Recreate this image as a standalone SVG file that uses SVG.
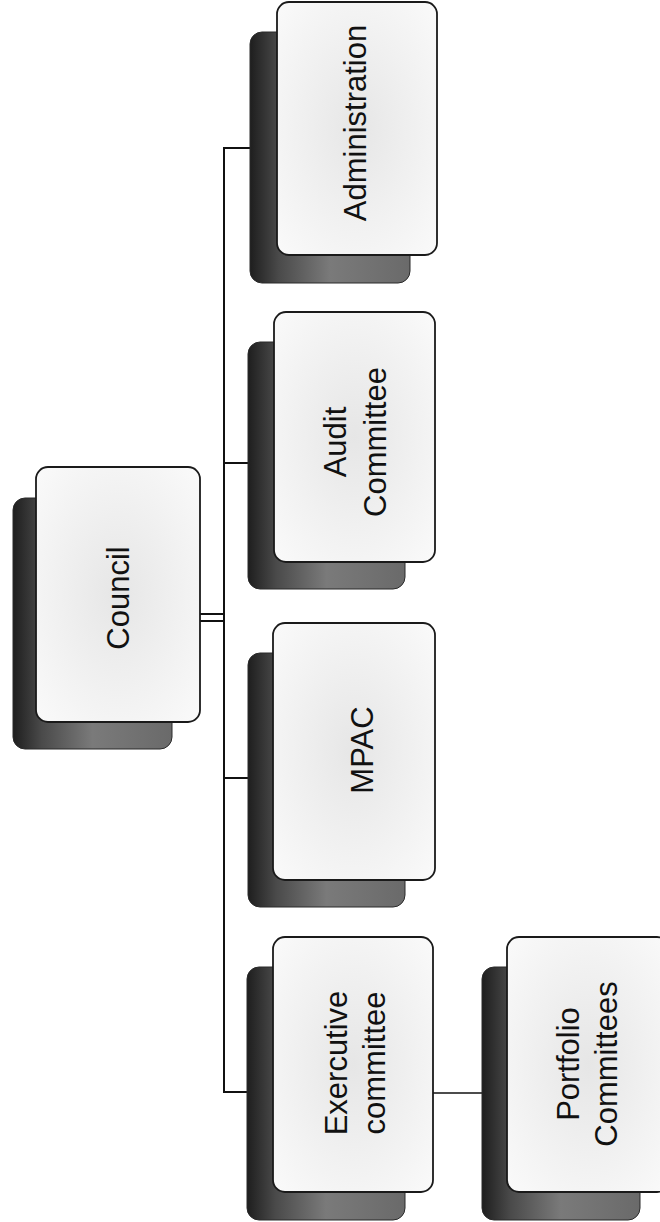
<svg xmlns="http://www.w3.org/2000/svg" width="660" height="1222" viewBox="0 0 660 1222">
<style>
.front{fill:url(#fg);stroke:#1a1a1a;stroke-width:1.8}
.shadow{fill:url(#sg);stroke:#2a2a2a;stroke-width:1}
.lbl{font-family:"Liberation Sans",Arial,sans-serif;font-size:31px;fill:#111;text-anchor:middle;dominant-baseline:central}
.conn{stroke:#111;stroke-width:2;fill:none}
</style>
<defs>
<linearGradient id="sg" x1="0" y1="0" x2="1" y2="0">
<stop offset="0" stop-color="#1e1e1e"/>
<stop offset="0.18" stop-color="#4a4a4a"/>
<stop offset="0.5" stop-color="#7a7a7a"/>
<stop offset="1" stop-color="#6a6a6a"/>
</linearGradient>
<radialGradient id="fg" cx="0.5" cy="0.5" r="0.7">
<stop offset="0" stop-color="#e6e6e6"/>
<stop offset="1" stop-color="#fafafa"/>
</radialGradient>
</defs>
<rect width="660" height="1222" fill="#ffffff"/>
<g id="connectors">
<line class="conn" x1="224" y1="148" x2="224" y2="1093"/>
<line class="conn" x1="223" y1="148" x2="250" y2="148"/>
<line class="conn" x1="223" y1="463" x2="248" y2="463"/>
<line class="conn" x1="223" y1="778" x2="248" y2="778"/>
<line class="conn" x1="223" y1="1092" x2="247" y2="1092"/>
<line class="conn" x1="200" y1="614" x2="224" y2="614"/>
<line class="conn" x1="200" y1="621" x2="224" y2="621"/>
<line class="conn" x1="433" y1="1093" x2="482" y2="1093" style="stroke-width:1.5"/>
</g>
<g id="council">
<rect class="shadow" x="13" y="498" width="159" height="251" rx="12"/>
<rect class="front" x="36" y="467" width="164" height="255" rx="12"/>
<text class="lbl" transform="translate(118,598) rotate(-90)">Council</text>
</g>
<g id="administration">
<rect class="shadow" x="250" y="32" width="160" height="251" rx="12"/>
<rect class="front" x="277" y="2" width="160" height="253" rx="12"/>
<text class="lbl" transform="translate(355,123) rotate(-90)">Administration</text>
</g>
<g id="audit">
<rect class="shadow" x="248" y="342" width="157" height="247" rx="12"/>
<rect class="front" x="274" y="312" width="161" height="250" rx="12"/>
<text class="lbl" transform="translate(355,442) rotate(-90)"><tspan x="0" y="-20">Audit</tspan><tspan x="0" y="20">Committee</tspan></text>
</g>
<g id="mpac">
<rect class="shadow" x="248" y="653" width="157" height="254" rx="12"/>
<rect class="front" x="273" y="623" width="162" height="257" rx="12"/>
<text class="lbl" transform="translate(362,750) rotate(-90)">MPAC</text>
</g>
<g id="executive">
<rect class="shadow" x="247" y="967" width="158" height="253" rx="12"/>
<rect class="front" x="273" y="937" width="160" height="255" rx="12"/>
<text class="lbl" transform="translate(355,1063) rotate(-90)"><tspan x="0" y="-19">Exercutive</tspan><tspan x="0" y="19">committee</tspan></text>
</g>
<g id="portfolio">
<rect class="shadow" x="482" y="967" width="158" height="253" rx="12"/>
<rect class="front" x="507" y="937" width="162" height="255" rx="12"/>
<text class="lbl" transform="translate(587,1064) rotate(-90)"><tspan x="0" y="-19">Portfolio</tspan><tspan x="0" y="19">Committees</tspan></text>
</g>
</svg>
